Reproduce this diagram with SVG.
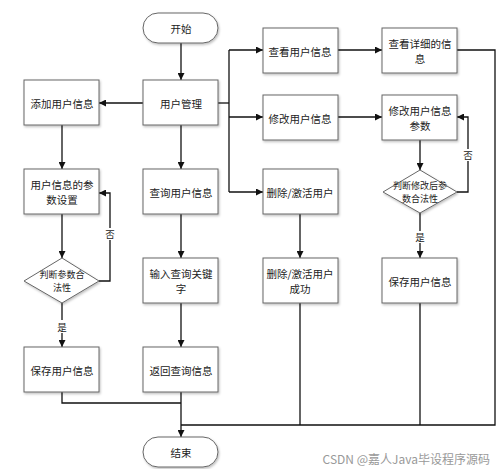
<svg xmlns="http://www.w3.org/2000/svg" width="499" height="469" viewBox="0 0 499 469">
<defs>
<marker id="arr" viewBox="0 0 10 10" refX="10" refY="5" markerWidth="7" markerHeight="7" markerUnits="userSpaceOnUse" orient="auto">
<path d="M0,0 L10,5 L0,10 z" fill="#111"/>
</marker>
<filter id="sh" x="-10%" y="-10%" width="125%" height="130%">
<feDropShadow dx="1" dy="1.5" stdDeviation="1" flood-color="#000" flood-opacity="0.25"/>
</filter>
</defs>
<style>
.box{fill:#fff;stroke:#666;stroke-width:1;filter:url(#sh)}
.t{font-family:"Noto Sans CJK SC","Liberation Sans",sans-serif;font-size:10.5px;fill:#222;text-anchor:middle;dominant-baseline:central}
.s{font-size:9px}
.c{fill:none;stroke:#111;stroke-width:1.3}
.a{marker-end:url(#arr)}
.lbl{font-family:"Noto Sans CJK SC","Liberation Sans",sans-serif;font-size:9.5px;fill:#222;text-anchor:middle;dominant-baseline:central}
</style>
<rect width="499" height="469" fill="#fff"/>
<g id="connectors">
<path class="c a" d="M181,43 V80"/>
<path class="c a" d="M143,103 H99"/>
<path class="c" d="M218,103 H229"/>
<path class="c" d="M229,50 V192"/>
<path class="c a" d="M229,50 H263"/>
<path class="c a" d="M229,117 H263"/>
<path class="c a" d="M229,192 H263"/>
<path class="c a" d="M338,50 H382"/>
<path class="c a" d="M338,117 H382"/>
<path class="c" d="M457,50 H495 V425 H181"/>
<path class="c a" d="M420,140 V170"/>
<path class="c a" d="M457,192 H468 V117 H457"/>
<path class="c a" d="M420,213 V258"/>
<path class="c" d="M420,303 V425"/>
<path class="c a" d="M300,214 V258"/>
<path class="c" d="M300,303 V425"/>
<path class="c a" d="M62,125 V169"/>
<path class="c a" d="M62,214 V258"/>
<path class="c a" d="M99,281 H110 V193 H99"/>
<path class="c a" d="M62,303 V347"/>
<path class="c" d="M62,392 V403 H181"/>
<path class="c a" d="M181,125 V169"/>
<path class="c a" d="M181,214 V258"/>
<path class="c a" d="M181,303 V347"/>
<path class="c a" d="M181,392 V437"/>
<rect x="104" y="228" width="12" height="12" fill="#fff"/>
<text class="lbl" x="110" y="234">否</text>
<rect x="56" y="320" width="12" height="13" fill="#fff"/>
<text class="lbl" x="62" y="327">是</text>
<rect x="462" y="149" width="12" height="12" fill="#fff"/>
<text class="lbl" x="468" y="155">否</text>
<rect x="414" y="231" width="12" height="12" fill="#fff"/>
<text class="lbl" x="420" y="237">是</text>
</g>
<g id="start">
<rect class="box" x="143" y="13" width="75" height="30" rx="15" ry="15"/>
<text class="t" x="181" y="28">开始</text>
</g>
<g id="user-mgmt">
<rect class="box" x="143" y="80" width="75" height="45"/>
<text class="t" x="181" y="103">用户管理</text>
</g>
<g id="add-user">
<rect class="box" x="24" y="80" width="75" height="45"/>
<text class="t" x="62" y="103">添加用户信息</text>
</g>
<g id="param-set">
<rect class="box" x="24" y="169" width="75" height="45"/>
<text class="t" x="62" y="184">用户信息的参</text>
<text class="t" x="62" y="199">数设置</text>
</g>
<g id="judge-left">
<polygon class="box" points="62,258 99,281 62,303 24,281"/>
<text class="t s" x="62" y="274">判断参数合</text>
<text class="t s" x="62" y="287">法性</text>
</g>
<g id="save-left">
<rect class="box" x="24" y="347" width="75" height="45"/>
<text class="t" x="62" y="370">保存用户信息</text>
</g>
<g id="query-user">
<rect class="box" x="143" y="169" width="75" height="45"/>
<text class="t" x="181" y="192">查询用户信息</text>
</g>
<g id="input-key">
<rect class="box" x="143" y="258" width="75" height="45"/>
<text class="t" x="181" y="273">输入查询关键</text>
<text class="t" x="181" y="288">字</text>
</g>
<g id="return-query">
<rect class="box" x="143" y="347" width="75" height="45"/>
<text class="t" x="181" y="370">返回查询信息</text>
</g>
<g id="end">
<rect class="box" x="143" y="437" width="75" height="30" rx="15" ry="15"/>
<text class="t" x="181" y="452">结束</text>
</g>
<g id="view-user">
<rect class="box" x="263" y="28" width="75" height="45"/>
<text class="t" x="300" y="51">查看用户信息</text>
</g>
<g id="view-detail">
<rect class="box" x="382" y="28" width="75" height="45"/>
<text class="t" x="420" y="43">查看详细的信</text>
<text class="t" x="420" y="58">息</text>
</g>
<g id="modify-user">
<rect class="box" x="263" y="95" width="75" height="45"/>
<text class="t" x="300" y="118">修改用户信息</text>
</g>
<g id="modify-param">
<rect class="box" x="382" y="95" width="75" height="45"/>
<text class="t" x="420" y="110">修改用户信息</text>
<text class="t" x="420" y="125">参数</text>
</g>
<g id="judge-right">
<polygon class="box" points="420,170 457,192 420,213 383,192"/>
<text class="t s" x="420" y="185">判断修改后参</text>
<text class="t s" x="420" y="198">数合法性</text>
</g>
<g id="save-right">
<rect class="box" x="382" y="258" width="75" height="45"/>
<text class="t" x="420" y="281">保存用户信息</text>
</g>
<g id="delete-user">
<rect class="box" x="263" y="169" width="75" height="45"/>
<text class="t" x="300" y="192">删除/激活用户</text>
</g>
<g id="delete-success">
<rect class="box" x="263" y="258" width="75" height="45"/>
<text class="t" x="300" y="273">删除/激活用户</text>
<text class="t" x="300" y="288">成功</text>
</g>
<text x="490" y="458" font-family="Noto Sans CJK SC,Liberation Sans,sans-serif" font-size="12" fill="#999" text-anchor="end" dominant-baseline="central">CSDN @嘉人Java毕设程序源码</text>
</svg>
